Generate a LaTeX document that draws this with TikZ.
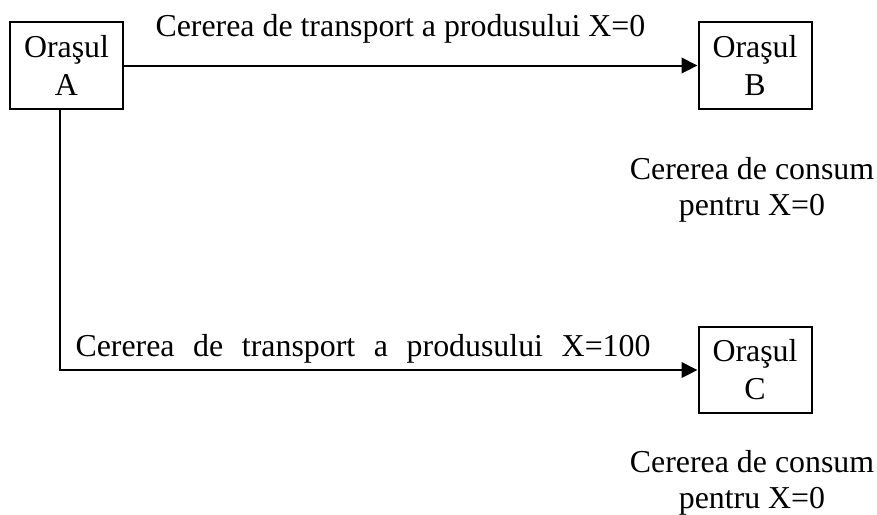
\documentclass[tikz,border=0pt]{standalone}
\usepackage{fontspec}
\setmainfont{Liberation Serif}
\usetikzlibrary{arrows.meta,positioning}

\begin{document}
\begin{tikzpicture}[x=0.4pt,y=-0.4pt,
  font=\fontsize{12.75}{15.2}\selectfont,
  oras/.style={draw,line width=0.8pt,align=center,minimum width=45.2pt,minimum height=34.6pt,inner sep=0pt},
  cerere/.style={inner sep=0pt,anchor=base west},
  consum/.style={inner sep=0pt,align=center,font=\fontsize{12.75}{14.4}\selectfont},
  sageata/.style={line width=0.8pt,-{Triangle[length=6.4pt,width=6.2pt]}}]
\useasboundingbox (0,0) rectangle (877,514);
% orasele
\node[oras] (A) at (66.5,65.5) {Oraşul\\A};
\node[oras] (B) at (755,65.5) {Oraşul\\B};
\node[oras] (C) at (755,370) {Oraşul\\C};
\coordinate (colt) at (60,370);
% cererile
\node[cerere] (tA) at (155,36) {Cererea de transport a produsului X=0};
\node[cerere] (tC) at (75,356) {\makebox[230pt][s]{Cererea de transport a produsului X=100}};
\node[consum] (cB) at (752,190) {Cererea de consum\\pentru X=0};
\node[consum] (cC) at (752,483) {Cererea de consum\\pentru X=0};
% legaturi
\draw[sageata] (A) -- (B);
\draw[sageata] (A.south -| colt) |- (C);
\end{tikzpicture}
\end{document}
